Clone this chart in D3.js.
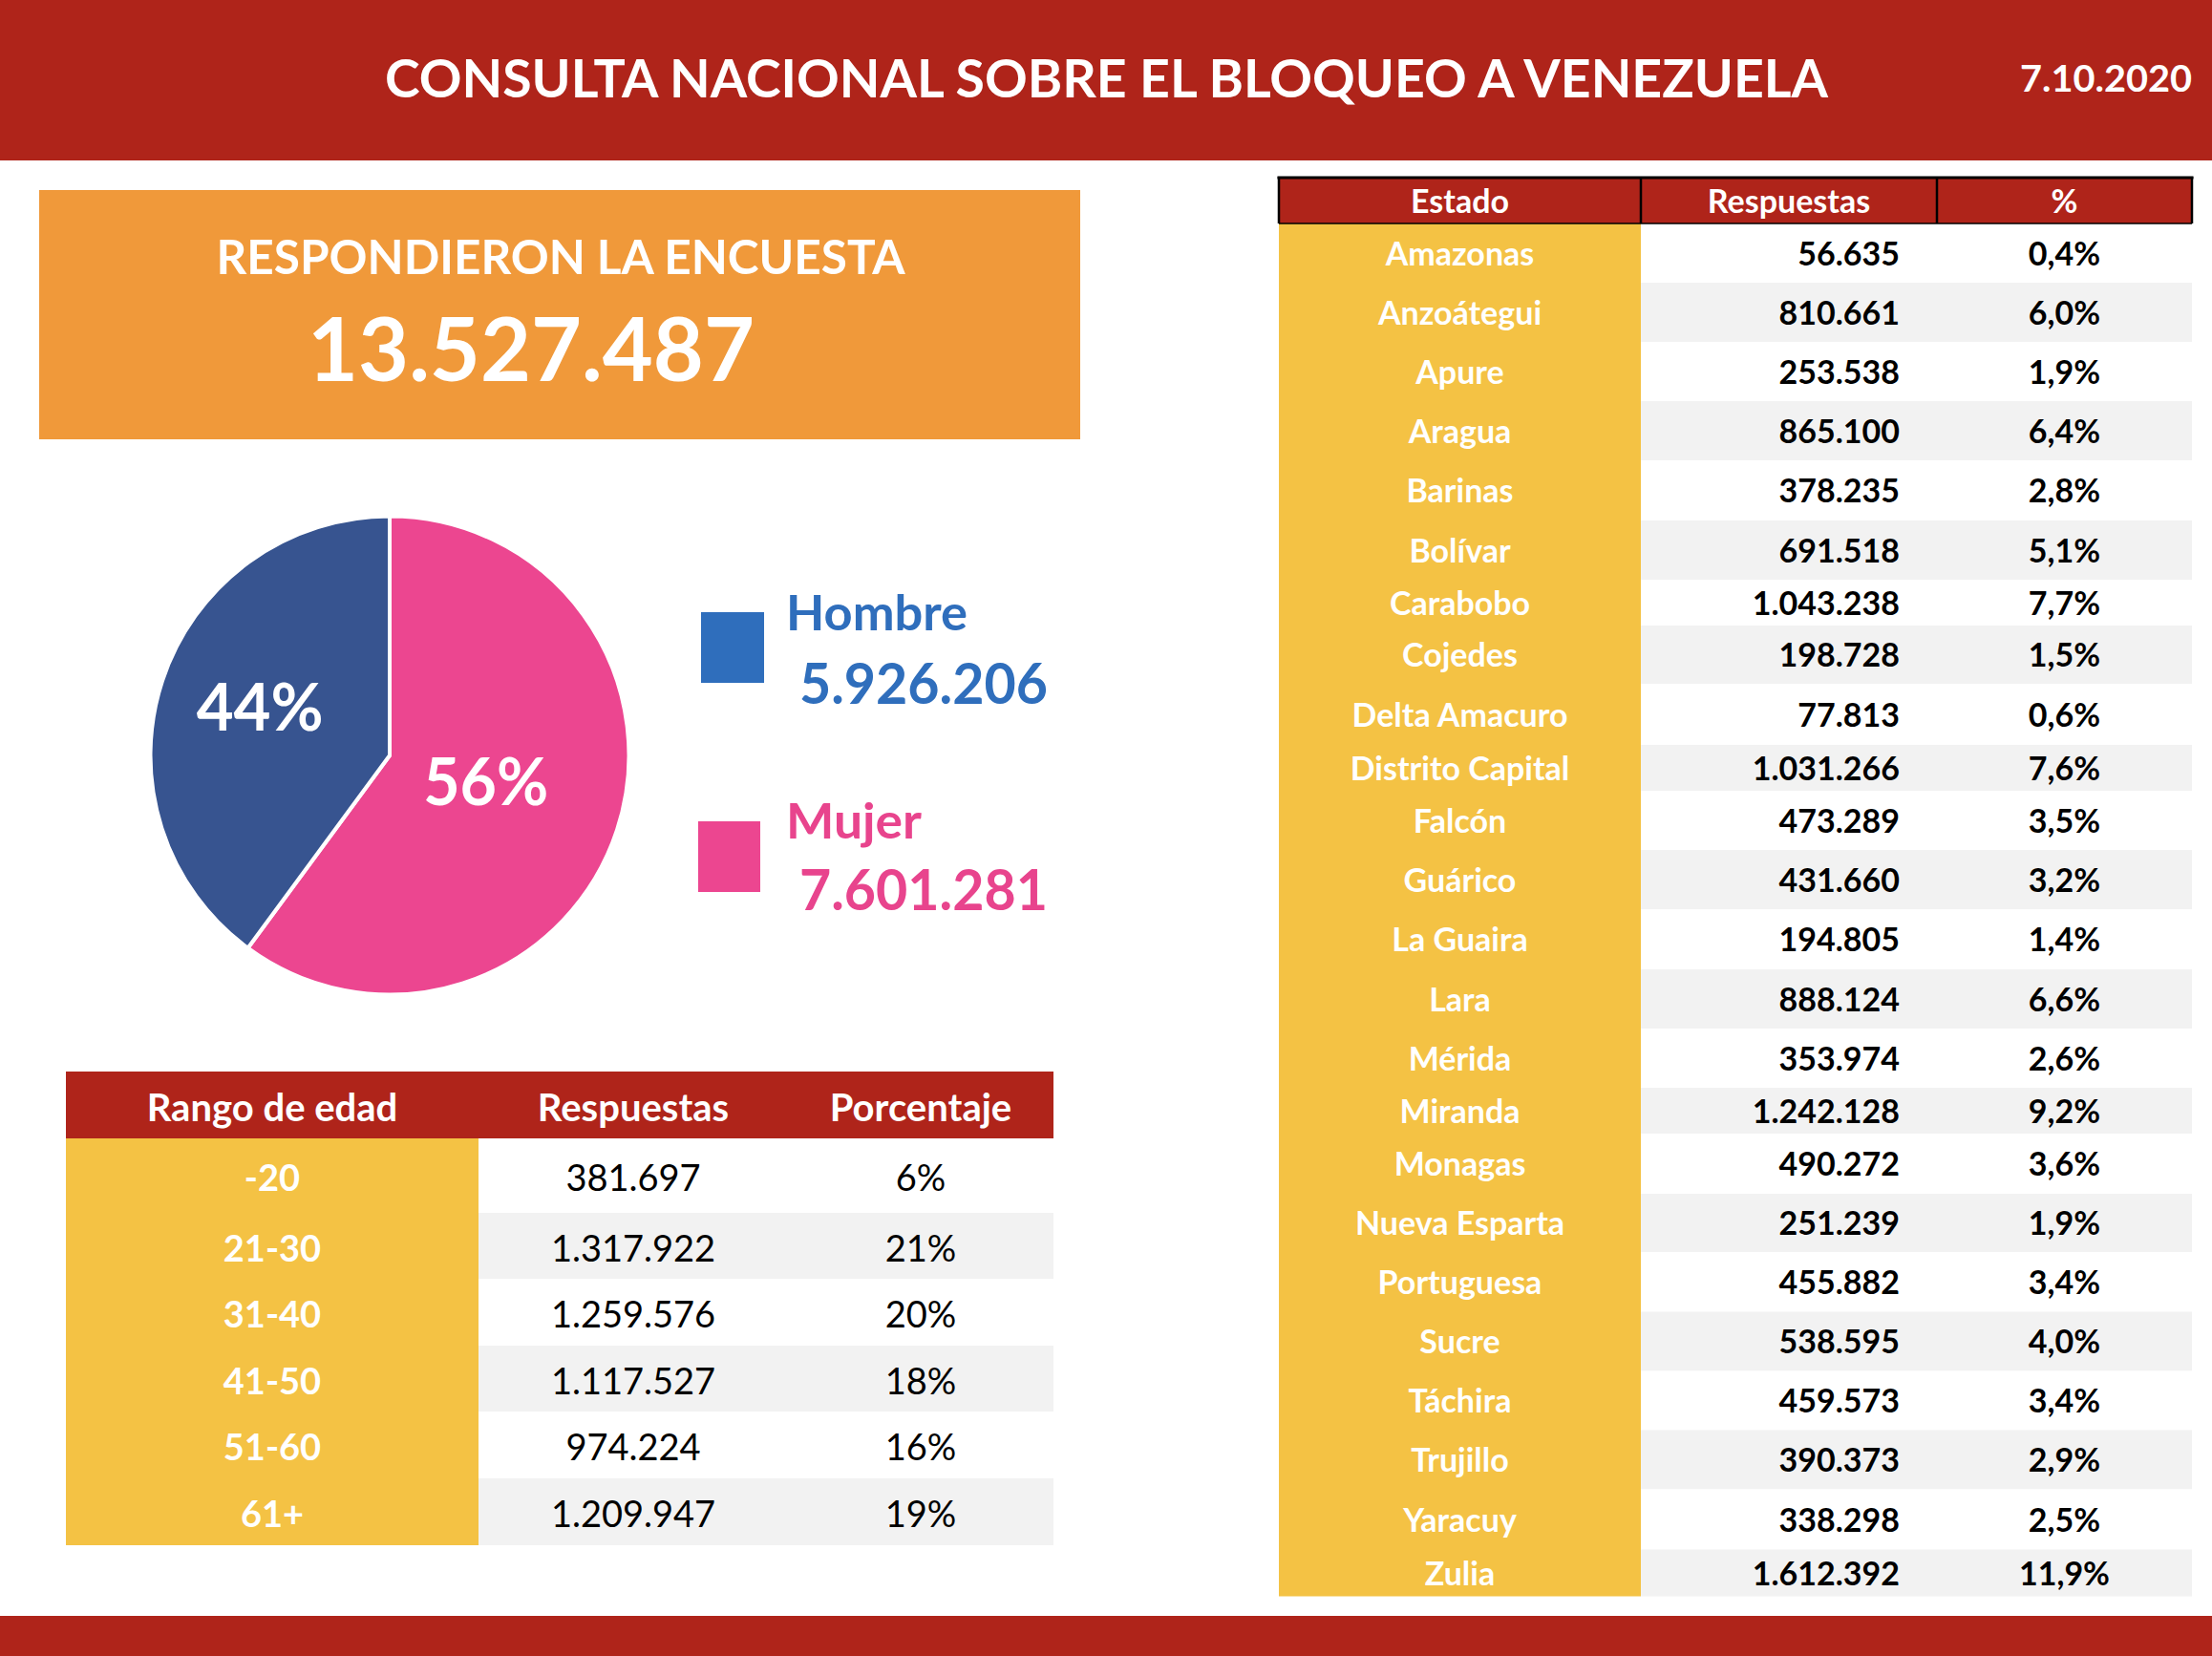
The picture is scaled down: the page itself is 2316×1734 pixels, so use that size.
<!DOCTYPE html>
<html><head><meta charset="utf-8">
<script src="https://cdn.jsdelivr.net/npm/d3@7"></script>
<style>
html,body{margin:0;padding:0;background:#fff;}
svg{display:block;}
text{font-family:Lato,'Open Sans',sans-serif;}
</style>
</head><body>
<svg id="c" width="2316" height="1734"></svg>
<script>
// ---------------- DATA ----------------
const title = "CONSULTA NACIONAL SOBRE EL BLOQUEO A VENEZUELA";
const dateLabel = "7.10.2020";
const totalLabel = "RESPONDIERON LA ENCUESTA";
const totalResponses = 13527487;

const genders = ["Hombre", "Mujer"];
const genderCounts = [5926206, 7601281];
const genderPctLabels = ["44%", "56%"];
const genderSliceShares = [39.9, 60.1]; // slice sizes as drawn in the picture

const ageHeaders = ["Rango de edad", "Respuestas", "Porcentaje"];
const ageRanges = ["-20", "21-30", "31-40", "41-50", "51-60", "61+"];
const ageCounts = [381697, 1317922, 1259576, 1117527, 974224, 1209947];
const agePct = ["6%", "21%", "20%", "18%", "16%", "19%"];

const stateHeaders = ["Estado", "Respuestas", "%"];
const states = ["Amazonas","Anzoátegui","Apure","Aragua","Barinas","Bolívar","Carabobo","Cojedes",
  "Delta Amacuro","Distrito Capital","Falcón","Guárico","La Guaira","Lara","Mérida","Miranda",
  "Monagas","Nueva Esparta","Portuguesa","Sucre","Táchira","Trujillo","Yaracuy","Zulia"];
const stateCounts = [56635,810661,253538,865100,378235,691518,1043238,198728,
  77813,1031266,473289,431660,194805,888124,353974,1242128,
  490272,251239,455882,538595,459573,390373,338298,1612392];
const statePct = ["0,4%","6,0%","1,9%","6,4%","2,8%","5,1%","7,7%","1,5%",
  "0,6%","7,6%","3,5%","3,2%","1,4%","6,6%","2,6%","9,2%",
  "3,6%","1,9%","3,4%","4,0%","3,4%","2,9%","2,5%","11,9%"];

// ---------------- LAYOUT / STYLE ----------------
const W = 2316, H = 1734;
const C = {red:"#AF241A", orange:"#F0993A", yellow:"#F4C244", gray:"#F2F2F2",
  pieBlue:"#375490", pink:"#EC4690", legBlue:"#2F6EBC", legPink:"#E8448D"};
const stateRowH = [62,62,62,62,63,62,48,61,64,48,62,62,63,62,62,48,63,61,62.5,62,62,62,63,49];
const ageRowH = [78,69,70,69,70,70];

const loc = d3.formatLocale({decimal:",", thousands:".", grouping:[3], currency:["",""]});
const fmt = loc.format(",d");

const svg = d3.select("#c");
function fit(sel, w){ return sel.attr("textLength", w).attr("lengthAdjust", "spacingAndGlyphs"); }

// header band & footer
svg.append("rect").attr("x",0).attr("y",0).attr("width",W).attr("height",168).attr("fill",C.red);
svg.append("rect").attr("x",0).attr("y",1692).attr("width",W).attr("height",H-1692).attr("fill",C.red);

fit(svg.append("text").attr("x",1158.5).attr("y",102).attr("text-anchor","middle")
  .attr("font-size",56).attr("font-weight",700).attr("fill","#fff").text(title), 1511);
fit(svg.append("text").attr("x",2295).attr("y",96).attr("text-anchor","end")
  .attr("font-size",39).attr("font-weight",700).attr("fill","#fff").text(dateLabel), 180);

// total box
svg.append("rect").attr("x",41).attr("y",199).attr("width",1090).attr("height",261).attr("fill",C.orange);
fit(svg.append("text").attr("x",587).attr("y",287).attr("text-anchor","middle")
  .attr("font-size",49).attr("font-weight",700).attr("fill","#fff").text(totalLabel), 721);
fit(svg.append("text").attr("x",556).attr("y",399).attr("text-anchor","middle")
  .attr("font-size",92).attr("font-weight",700).attr("fill","#fff").text(fmt(totalResponses)), 468);

// ---------------- PIE ----------------
const pieCx = 408, pieCy = 791, R = 250.5;
const order = [1, 0]; // Mujer starts at 12 o'clock, clockwise
const pieInput = order.map(i => ({i, share: genderSliceShares[i]}));
const arcs = d3.pie().sort(null).value(d => d.share)(pieInput);
const arc = d3.arc().innerRadius(0).outerRadius(R);
const sliceCol = [C.pieBlue, C.pink];
const pg = svg.append("g").attr("transform", `translate(${pieCx},${pieCy})`);
pg.selectAll("path").data(arcs).join("path")
  .attr("d", arc).attr("fill", d => sliceCol[d.data.i])
  .attr("stroke", "#fff").attr("stroke-width", 4).attr("stroke-linejoin","round");
const labelR = [143, 106];
const labelW = [133, 131];
arcs.forEach(a => {
  const c = d3.arc().innerRadius(labelR[a.data.i]).outerRadius(labelR[a.data.i]).centroid(a);
  fit(pg.append("text").attr("x", c[0]).attr("y", c[1] + 19).attr("text-anchor","middle")
    .attr("font-size",68).attr("font-weight",700).attr("fill","#fff")
    .text(genderPctLabels[a.data.i]), labelW[a.data.i]);
});

// legend
const legSq = [{x:734,y:641,w:66,h:74},{x:731,y:860,w:65,h:74}];
const legTextY = [660, 878], legNumY = [737, 953];
const legCol = [C.legBlue, C.legPink], legSqCol = [C.legBlue, C.pink];
const legNameW = [190, 142];
genders.forEach((g, i) => {
  svg.append("rect").attr("x",legSq[i].x).attr("y",legSq[i].y).attr("width",legSq[i].w)
    .attr("height",legSq[i].h).attr("fill",legSqCol[i]);
  fit(svg.append("text").attr("x",823).attr("y",legTextY[i]).attr("font-size",52)
    .attr("font-weight",700).attr("fill",legCol[i]).text(g), legNameW[i]);
  fit(svg.append("text").attr("x",837).attr("y",legNumY[i]).attr("font-size",60)
    .attr("font-weight",700).attr("fill",legCol[i]).text(fmt(genderCounts[i])), 260);
});

// ---------------- AGE TABLE ----------------
{
  const x0 = 69, x1 = 501, x2 = 1103, hy0 = 1122, hy1 = 1192;
  const colCx = [285, 663, 964];
  svg.append("rect").attr("x",x0).attr("y",hy0).attr("width",x2-x0).attr("height",hy1-hy0).attr("fill",C.red);
  ageHeaders.forEach((h, j) => {
    svg.append("text").attr("x",colCx[j]).attr("y",(hy0+hy1)/2+17).attr("text-anchor","middle")
      .attr("font-size",40).attr("font-weight",700).attr("fill","#fff").text(h);
  });
  const ys = [hy1, ...d3.cumsum(ageRowH).map(v => v + hy1)];
  svg.append("rect").attr("x",x0).attr("y",hy1).attr("width",x1-x0).attr("height",ys[ys.length-1]-hy1).attr("fill",C.yellow);
  const g = svg.append("g");
  ageRanges.forEach((r, i) => {
    const y0 = ys[i], y1 = ys[i+1], cy = (y0+y1)/2;
    g.append("rect").attr("x",x1).attr("y",y0).attr("width",x2-x1).attr("height",y1-y0)
      .attr("fill", i % 2 ? C.gray : "#fff");
    g.append("text").attr("x",colCx[0]).attr("y",cy+16).attr("text-anchor","middle")
      .attr("font-size",38).attr("font-weight",700).attr("fill","#fff").text(r);
    g.append("text").attr("x",colCx[1]).attr("y",cy+16).attr("text-anchor","middle")
      .attr("font-size",38).attr("font-weight",400).attr("fill","#000").text(fmt(ageCounts[i]));
    g.append("text").attr("x",colCx[2]).attr("y",cy+16).attr("text-anchor","middle")
      .attr("font-size",38).attr("font-weight",400).attr("fill","#000").text(agePct[i]);
  });
}

// ---------------- STATE TABLE ----------------
{
  const xs = [1339, 1718, 2028, 2295], hy0 = 185, hy1 = 234;
  const colCx = [(xs[0]+xs[1])/2, (xs[1]+xs[2])/2, (xs[2]+xs[3])/2];
  svg.append("rect").attr("x",xs[0]).attr("y",hy0).attr("width",xs[3]-xs[0]).attr("height",hy1-hy0).attr("fill",C.red);
  stateHeaders.forEach((h, j) => {
    svg.append("text").attr("x",colCx[j]).attr("y",223).attr("text-anchor","middle")
      .attr("font-size",34).attr("font-weight",700).attr("fill","#fff").text(h);
  });
  const ys = [hy1, ...d3.cumsum(stateRowH).map(v => v + hy1)];
  svg.append("rect").attr("x",xs[0]).attr("y",hy1).attr("width",xs[1]-xs[0]).attr("height",ys[ys.length-1]-hy1).attr("fill",C.yellow);
  const g = svg.append("g");
  states.forEach((s, i) => {
    const y0 = ys[i], y1 = ys[i+1], cy = (y0+y1)/2;
    g.append("rect").attr("x",xs[1]).attr("y",y0).attr("width",xs[3]-xs[1]).attr("height",y1-y0)
      .attr("fill", i % 2 ? C.gray : "#fff");
    g.append("text").attr("x",colCx[0]).attr("y",cy+12.5).attr("text-anchor","middle")
      .attr("font-size",34).attr("font-weight",700).attr("fill","#fff").text(s);
    g.append("text").attr("x",1989).attr("y",cy+12.5).attr("text-anchor","end")
      .attr("font-size",34).attr("font-weight",700).attr("fill","#000").text(fmt(stateCounts[i]));
    g.append("text").attr("x",colCx[2]).attr("y",cy+12.5).attr("text-anchor","middle")
      .attr("font-size",34).attr("font-weight",700).attr("fill","#000").text(statePct[i]);
  });
  // header borders
  const b = svg.append("g").attr("stroke","#000").attr("fill","none");
  b.append("line").attr("x1",xs[0]-1.5).attr("x2",xs[3]+1.5).attr("y1",hy0+1).attr("y2",hy0+1).attr("stroke-width",3);
  b.append("line").attr("x1",xs[0]).attr("x2",xs[3]).attr("y1",hy1).attr("y2",hy1).attr("stroke-width",1.5);
  xs.forEach(x => b.append("line").attr("x1",x).attr("x2",x).attr("y1",hy0).attr("y2",hy1).attr("stroke-width",2.5));
}
</script>
</body></html>
